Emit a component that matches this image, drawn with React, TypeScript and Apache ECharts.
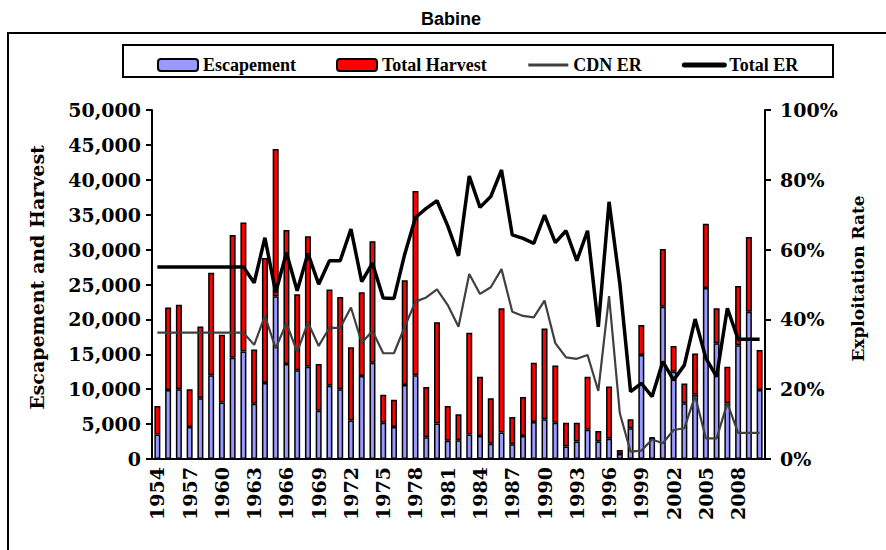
import React, { useEffect, useRef } from "react";
import * as echarts from "echarts";

const years: string[] = [];
for (let y = 1954; y <= 2010; y++) years.push(String(y));

const escapement = [
  3500, 9900, 10000, 4600, 8700, 12000, 8100, 14500, 15400, 7900,
  10900, 23300, 13600, 12700, 13200, 6900, 10500, 10000, 5500, 11900,
  13800, 5200, 4600, 10600, 12000, 3100, 5100, 2600, 2700, 3500,
  3300, 2200, 3800, 2100, 3300, 5300, 5700, 5200, 1800, 2500,
  4200, 2500, 2900, 700, 4400, 14900, 3000, 21800, 12500, 8000,
  9200, 24500, 16600, 8000, 16300, 21100, 9900,
];

const totalHarvest = [
  4100, 11800, 12100, 5400, 10300, 14700, 9700, 17600, 18500, 7800,
  17900, 21100, 19200, 10900, 18700, 6700, 13800, 13200, 10500, 12000,
  17400, 4000, 3900, 15000, 26400, 7200, 14500, 5000, 3700, 14600,
  8500, 6500, 17800, 3900, 5600, 8500, 13000, 8200, 3400, 2700,
  7600, 1500, 7500, 600, 1300, 4300, 100, 8300, 3700, 2800,
  5900, 9200, 5000, 5200, 8500, 10700, 5700,
];

const cdnER = [
  36.2, 36.2, 36.2, 36.2, 36.2, 36.2, 36.2, 36.2, 36.2, 32.7,
  41.0, 31.7, 38.9, 30.7, 39.1, 32.4, 37.6, 37.6, 43.4, 33.3,
  36.7, 30.3, 30.3, 37.9, 45.1, 46.3, 48.6, 44.1, 37.9, 53.0,
  47.3, 49.2, 54.4, 42.2, 41.0, 40.6, 45.4, 33.2, 29.1, 28.7,
  29.8, 19.5, 46.7, 13.1, 2.1, 2.4, 5.6, 4.5, 8.3, 8.8,
  18.1, 5.9, 5.9, 16.0, 7.5, 7.5, 7.5,
];

const totalER = [
  55, 55, 55, 55, 55, 55, 55, 55, 55, 50.5,
  63.4, 47.7, 59.1, 48.2, 58.9, 50.1, 56.8, 56.8, 65.9, 50.8,
  56.1, 46.1, 46.0, 58.7, 69.2, 71.8, 74.0, 66.8, 58.2, 81.1,
  72.1, 75.2, 82.8, 64.2, 63.2, 61.8, 69.9, 62.0, 65.4, 56.8,
  65.4, 37.9, 73.7, 50.3, 19.3, 21.7, 17.9, 27.9, 22.6, 26.9,
  40.1, 28.9, 23.6, 43.2, 34.3, 34.3, 34.3,
];

const SERIF = "'DejaVu Serif', serif";
const LEG = "'Liberation Serif', 'Times New Roman', serif";

export default function App() {
  const ref = useRef<HTMLDivElement>(null);
  useEffect(() => {
    if (!ref.current) return;
    const chart = echarts.init(ref.current, null, { renderer: "svg" });
    chart.setOption({
      animation: false,
      backgroundColor: "#ffffff",
      title: {
        text: "Babine",
        left: 416,
        top: 5,
        textStyle: { fontFamily: "'Liberation Sans', Arial, sans-serif", fontWeight: "bold", fontSize: 18, color: "#000" },
      },
      graphic: [
        { type: "rect", shape: { x: 8, y: 33, width: 1000, height: 1000 }, style: { fill: "none", stroke: "#000", lineWidth: 2 }, silent: true },
        { type: "rect", shape: { x: 123, y: 45, width: 710, height: 32 }, style: { fill: "none", stroke: "#000", lineWidth: 2 }, silent: true },
      ],
      legend: {
        left: 152,
        top: 51,
        itemGap: 40,
        itemWidth: 40,
        itemHeight: 12,
        textStyle: { fontFamily: LEG, fontWeight: "bold", fontSize: 18, color: "#000" },
        data: [
          { name: "Escapement", itemStyle: { borderWidth: 2, borderColor: "#000" } },
          { name: "Total Harvest", itemStyle: { borderWidth: 2, borderColor: "#000" } },
          { name: "CDN ER", itemStyle: { opacity: 0 }, lineStyle: { width: 3, color: "#404040" } },
          { name: "Total ER", itemStyle: { opacity: 0 }, lineStyle: { width: 5, color: "#000", cap: "round" } },
        ],
      },
      grid: { left: 152, right: 121, top: 110, bottom: 91 },
      xAxis: {
        type: "category",
        data: years,
        axisLine: { lineStyle: { color: "#000", width: 2 } },
        axisTick: { interval: 0, length: 5, lineStyle: { color: "#000", width: 1.5 } },
        axisLabel: {
          interval: 2,
          rotate: 90,
          margin: 8,
          fontFamily: SERIF,
          fontWeight: "bold",
          fontSize: 19,
          color: "#000",
        },
      },
      yAxis: [
        {
          type: "value",
          min: 0,
          max: 50000,
          interval: 5000,
          name: "Escapement and Harvest",
          nameLocation: "middle",
          nameRotate: 90,
          nameGap: 106,
          nameTextStyle: { fontFamily: SERIF, fontWeight: "bold", fontSize: 19, color: "#000", padding: [0, 0, 0, 14] },
          axisLine: { show: true, lineStyle: { color: "#000", width: 2 } },
          axisTick: { show: true, length: 6, lineStyle: { color: "#000", width: 2 } },
          splitLine: { show: false },
          axisLabel: {
            margin: 11,
            fontFamily: SERIF,
            fontWeight: "bold",
            fontSize: 19,
            color: "#000",
            formatter: (v: number) => v.toLocaleString("en-US"),
          },
        },
        {
          type: "value",
          min: 0,
          max: 100,
          interval: 20,
          position: "right",
          name: "Exploitation Rate",
          nameLocation: "middle",
          nameRotate: 90,
          nameGap: 84,
          nameTextStyle: { fontFamily: SERIF, fontWeight: "bold", fontSize: 17, color: "#000", padding: [0, 0, 0, 12] },
          axisLine: { show: true, lineStyle: { color: "#000", width: 2 } },
          axisTick: { show: true, length: 6, lineStyle: { color: "#000", width: 2 } },
          splitLine: { show: false },
          axisLabel: {
            margin: 15,
            fontFamily: SERIF,
            fontWeight: "bold",
            fontSize: 19,
            color: "#000",
            formatter: (v: number) => `${v}%`,
          },
        },
      ],
      series: [
        {
          name: "Escapement",
          type: "bar",
          stack: "fish",
          barWidth: 6,
          data: escapement,
          itemStyle: { color: "#9999FF", borderColor: "#000", borderWidth: 1.5 },
        },
        {
          name: "Total Harvest",
          type: "bar",
          stack: "fish",
          barWidth: 6,
          data: totalHarvest,
          itemStyle: { color: "#FF0000", borderColor: "#000", borderWidth: 1.5 },
        },
        {
          name: "CDN ER",
          type: "line",
          yAxisIndex: 1,
          data: cdnER,
          symbol: "none",
          lineStyle: { color: "#404040", width: 2.2 },
          itemStyle: { color: "#404040" },
        },
        {
          name: "Total ER",
          type: "line",
          yAxisIndex: 1,
          data: totalER,
          symbol: "none",
          lineStyle: { color: "#000", width: 3.5 },
          itemStyle: { color: "#000" },
        },
      ],
    });
    return () => chart.dispose();
  }, []);
  return (
    <div
      ref={ref}
      style={{ position: "fixed", left: 0, top: 0, width: 886, height: 550 }}
    />
  );
}
